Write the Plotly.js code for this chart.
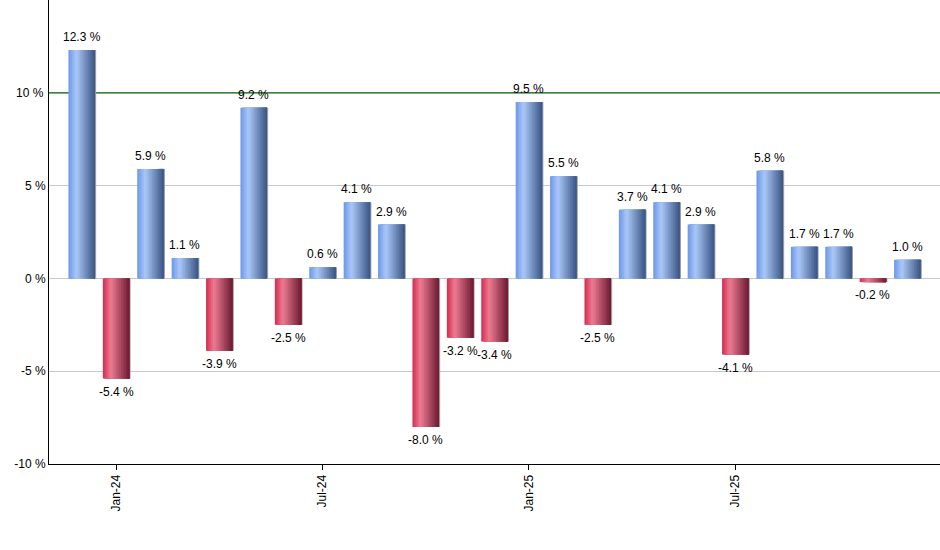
<!DOCTYPE html>
<html>
<head>
<meta charset="utf-8">
<script src="https://cdn.plot.ly/plotly-3.0.1.min.js"></script>
<style>
  html, body { margin: 0; padding: 0; background: #fff; }
  #chart { width: 940px; height: 550px; }
</style>
</head>
<body>
<div id="chart"></div>
<script>
// ── Data ──────────────────────────────────────────────────────────────────
const months = ['Dec-23', 'Jan-24', 'Feb-24', 'Mar-24', 'Apr-24', 'May-24', 'Jun-24',
  'Jul-24', 'Aug-24', 'Sep-24', 'Oct-24', 'Nov-24', 'Dec-24', 'Jan-25', 'Feb-25',
  'Mar-25', 'Apr-25', 'May-25', 'Jun-25', 'Jul-25', 'Aug-25', 'Sep-25', 'Oct-25',
  'Nov-25', 'Dec-25'];
const returns = [12.3, -5.4, 5.9, 1.1, -3.9, 9.2, -2.5, 0.6, 4.1, 2.9, -8.0, -3.2,
  -3.4, 9.5, 5.5, -2.5, 3.7, 4.1, 2.9, -4.1, 5.8, 1.7, 1.7, -0.2, 1.0];
const tickMonths = ['Jan-24', 'Jul-24', 'Jan-25', 'Jul-25'];
const yTicks = [-10, -5, 0, 5, 15];   // 10 % gets its own green line
const refLine = 10;

// ── Helpers ───────────────────────────────────────────────────────────────
const xs = months.map((_, i) => i);
const labels = returns.map(v => v.toFixed(1) + ' %');

function hex(c) {
  return [1, 3, 5].map(k => parseInt(c.slice(k, k + 2), 16));
}
function mix(stops, t) {
  // stops: [[pos, '#rrggbb'], ...]
  for (let k = 0; k < stops.length - 1; k++) {
    const [p0, c0] = stops[k], [p1, c1] = stops[k + 1];
    if (t <= p1) {
      const f = (t - p0) / (p1 - p0);
      const a = hex(c0), b = hex(c1);
      return 'rgb(' + a.map((v, j) => Math.round(v + (b[j] - v) * f)).join(',') + ')';
    }
  }
  return stops[stops.length - 1][1];
}

const blueStops = [[0, '#6c96e8'], [0.3, '#aac8f8'], [1, '#3a5482']];
const redStops  = [[0, '#d42a50'], [0.3, '#ec7c92'], [1, '#6c1a32']];

const W = 0.77;       // bar width in month units
const N = 16;         // gradient slices
const traces = [];

// shadow to the right
traces.push({
  type: 'bar', x: xs, y: returns, width: W, offset: -W / 2 + 0.035,
  marker: {color: '#9a9a9a', line: {width: 0}},
  hoverinfo: 'skip', showlegend: false,
});

// overlapping slices make the cylinder shading
for (let i = 0; i < N; i++) {
  const t = (i + 0.5) / N;
  traces.push({
    type: 'bar', x: xs, y: returns,
    offset: -W / 2 + i * W / N,
    width: W - i * W / N,
    marker: {
      color: returns.map(v => mix(v >= 0 ? blueStops : redStops, t)),
      line: {width: 0},
    },
    hoverinfo: 'skip', showlegend: false,
  });
}

// value labels above / below each bar
const valueNotes = returns.map((v, i) => ({
  x: xs[i], y: v, xref: 'x', yref: 'y',
  text: labels[i], showarrow: false,
  yanchor: v >= 0 ? 'bottom' : 'top',
  yshift: v >= 0 ? 4 : -4,
  font: {size: 12, color: '#000'},
}));

const layout = {
  width: 940, height: 550,
  margin: {l: 49, r: 0, t: 0, b: 86},
  barmode: 'overlay',
  paper_bgcolor: '#fff',
  plot_bgcolor: '#fff',
  font: {family: 'Liberation Sans, Arial, sans-serif', size: 12, color: '#000'},
  showlegend: false,
  xaxis: {
    range: [-0.95, 24.95],
    tickvals: tickMonths.map(m => months.indexOf(m)),
    ticktext: tickMonths,
    tickangle: -90,
    ticks: 'outside', ticklen: 5, tickcolor: '#000',
    showgrid: false, zeroline: false,
    showline: true, linecolor: '#000', linewidth: 1,
    tickfont: {size: 12},
  },
  yaxis: {
    range: [-10, 15],
    tickvals: yTicks,
    ticktext: yTicks.map(v => v === 15 ? '' : v + ' %'),
    showgrid: true, gridcolor: '#c8c8c8', gridwidth: 1,
    zeroline: false,
    showline: true, linecolor: '#000', linewidth: 1,
    ticks: '', tickfont: {size: 12},
  },
  shapes: [
    {type: 'line', xref: 'paper', x0: 0, x1: 1, yref: 'y', y0: refLine, y1: refLine,
     line: {color: '#005800', width: 1.2}, layer: 'between'},
  ],
  annotations: [
    {xref: 'paper', x: 0, xanchor: 'right', xshift: -3, yref: 'y', y: refLine,
     text: refLine + ' %', showarrow: false, font: {size: 12, color: '#000'}},
    ...valueNotes,
  ],
};

Plotly.newPlot('chart', traces, layout, {displayModeBar: false, staticPlot: true});
</script>
</body>
</html>
